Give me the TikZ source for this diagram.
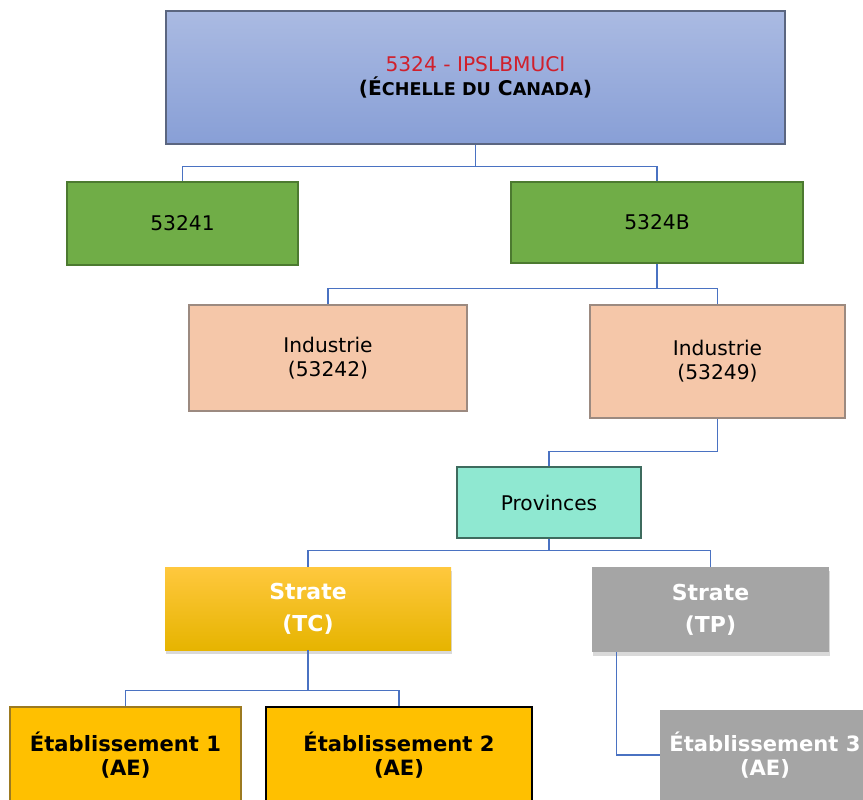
\documentclass[tikz,border=0pt]{standalone}
\usepackage{fontspec}
\setmainfont{DejaVu Sans}
\usetikzlibrary{shadows}
\definecolor{linkblue}{HTML}{4A72C2}
\definecolor{headtop}{HTML}{AABAE2}
\definecolor{headbot}{HTML}{889FD6}
\definecolor{headline}{HTML}{5B6680}
\definecolor{headred}{HTML}{D0202C}
\definecolor{leafgreen}{HTML}{70AD47}
\definecolor{greenline}{HTML}{4C7A30}
\definecolor{peach}{HTML}{F5C7A9}
\definecolor{peachline}{HTML}{9C8A80}
\definecolor{mint}{HTML}{8FE8D1}
\definecolor{mintline}{HTML}{3E6B5E}
\definecolor{goldtop}{HTML}{FFC83E}
\definecolor{goldbot}{HTML}{E6B400}
\definecolor{gold}{HTML}{FFC000}
\definecolor{goldline}{HTML}{9C7A20}
\definecolor{stonegray}{HTML}{A5A5A5}
\begin{document}
\begin{tikzpicture}[x=0.02cm,y=-0.02cm,
  every node/.style={align=center, inner sep=0pt, font=\fontsize{11.5}{13.6}\selectfont},
  sz/.style 2 args={minimum width=#1*0.02cm, minimum height=#2*0.02cm},
  link/.style={draw=linkblue, line width=0.9pt},
  headbox/.style={draw=headline, line width=0.6pt, top color=headtop, bottom color=headbot},
  codebox/.style={draw=greenline, line width=0.6pt, fill=leafgreen},
  indbox/.style={draw=peachline, line width=0.6pt, fill=peach},
  provbox/.style={draw=mintline, line width=0.6pt, fill=mint},
  stratebox/.style={text=white, font=\bfseries\fontsize{12.5}{14.4}\selectfont,
    drop shadow={shadow xshift=0.6pt, shadow yshift=-2.2pt, opacity=0.3}},
  etabbox/.style={font=\bfseries\fontsize{12}{14}\selectfont}
]
\clip (0,0) rectangle (863,799);
\useasboundingbox (0,0) rectangle (863,799);

% boxes
\node[headbox, sz={619}{133}] (head) at (475.5,77.5)
  {{\color{headred}5324 - IPSLBMUCI}\\
   \textbf{(É{\fontsize{10}{12}\selectfont CHELLE DU} C{\fontsize{10}{12}\selectfont ANADA})}};
\node[codebox, sz={231}{83}] (c1) at (182.5,223.5) {53241};
\node[codebox, sz={292}{81}] (c2) at (657,222.5) {5324B};
\node[indbox, sz={278}{106}] (ind1) at (328,358) {Industrie\\(53242)};
\node[indbox, sz={255}{113}] (ind2) at (717.5,361.5) {Industrie\\(53249)};
\node[provbox, sz={184}{71}] (prov) at (549,502.5) {Provinces};
\node[stratebox, top color=goldtop, bottom color=goldbot, sz={286}{83}] (tc) at (308,608.5) {Strate\\[4pt](TC)};
\node[stratebox, fill=stonegray, sz={237}{85}] (tp) at (710.5,609.5) {Strate\\[4pt](TP)};
\node[etabbox, fill=gold, draw=goldline, line width=0.6pt, sz={231}{96}] (e1) at (125.5,755) {Établissement 1\\(AE)};
\node[etabbox, fill=gold, draw=black, line width=1.3pt, sz={266}{96}] (e2) at (399,755) {Établissement 2\\(AE)};
\node[etabbox, fill=stonegray, text=white, sz={210}{90}] (e3) at (765,755) {Établissement 3\\(AE)};

% links
\draw[link] (head.south) -- ++(0,22) coordinate (hb) -| (c1.north);
\draw[link] (hb) -| (c2.north);
\draw[link] (c2.south) -- ++(0,25) coordinate (cb) -| (ind1.north);
\draw[link] (cb) -| (ind2.north);
\draw[link] (ind2.south) -- ++(0,33) -| (prov.north);
\draw[link] (prov.south) -- ++(0,12) coordinate (pb) -| (tc.north);
\draw[link] (pb) -| (tp.north);
\draw[link] (tc.south) -- ++(0,40) coordinate (sb) -| (e1.north);
\draw[link] (sb) -| (e2.north);
\draw[link] ([xshift=0.5cm]tp.south west) |- (e3.west);
\end{tikzpicture}
\end{document}
